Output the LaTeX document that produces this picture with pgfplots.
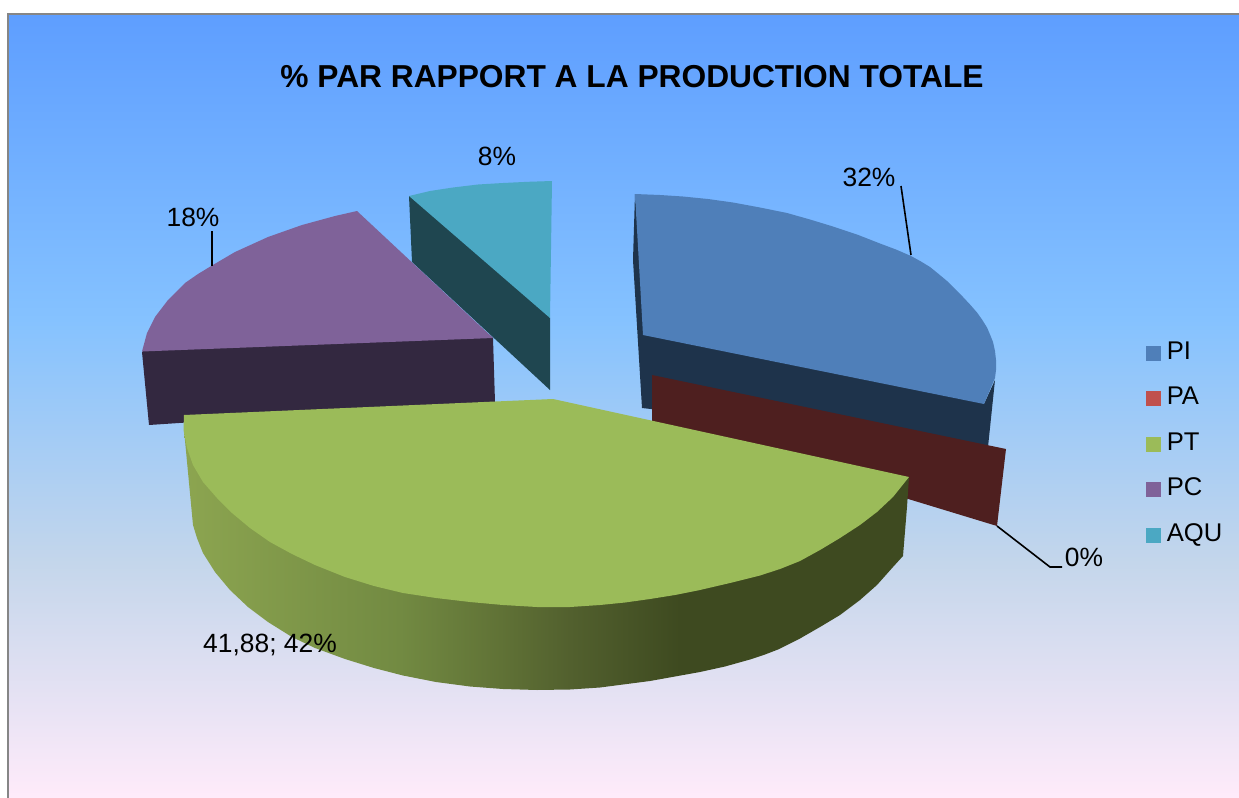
\documentclass[border=0pt]{standalone}
\usepackage{fontspec}
\setmainfont{Liberation Sans}
\usepackage{xcolor}
\usepackage{tikz}
\usepackage{pgfplots}
\pgfplotsset{compat=1.18}

\definecolor{PIcol}{HTML}{4F7FB9}
\definecolor{PIside}{HTML}{1E334B}
\definecolor{PAcol}{HTML}{C0504D}
\definecolor{PAside}{HTML}{4E1F1F}
\definecolor{PTcol}{HTML}{9BBB59}
\definecolor{PCcol}{HTML}{7F6299}
\definecolor{PCside}{HTML}{332840}
\definecolor{AQUcol}{HTML}{4BA8C3}
\definecolor{AQUside}{HTML}{1F4650}
\definecolor{Frame}{HTML}{868686}

% shading box is 100bp, the middle 25--75bp lands on the path's bounding box
\pgfdeclareverticalshading{daybreak}{100bp}{
  color(0bp)=(rgb,255:red,255;green,235;blue,250);
  color(25bp)=(rgb,255:red,255;green,235;blue,250);
  color(40bp)=(rgb,255:red,196;green,214;blue,235);
  color(55.5bp)=(rgb,255:red,133;green,194;blue,255);
  color(75bp)=(rgb,255:red,94;green,158;blue,255);
  color(100bp)=(rgb,255:red,94;green,158;blue,255)}
\pgfdeclarehorizontalshading{greenside}{100bp}{
  color(0bp)=(rgb,255:red,140;green,165;blue,80);
  color(25bp)=(rgb,255:red,140;green,165;blue,80);
  color(39.9bp)=(rgb,255:red,114;green,138;blue,66);
  color(46.8bp)=(rgb,255:red,96;green,114;blue,54);
  color(51.6bp)=(rgb,255:red,82;green,96;blue,46);
  color(59.2bp)=(rgb,255:red,62;green,74;blue,32);
  color(75bp)=(rgb,255:red,62;green,74;blue,32);
  color(100bp)=(rgb,255:red,62;green,74;blue,32)}

\begin{document}
\begin{tikzpicture}
\begin{axis}[
  scale only axis,
  width=619.5pt, height=399pt,
  xmin=0, xmax=1239, ymin=0, ymax=798,
  y dir=reverse,
  hide axis,
  no markers,
  face/.style={forget plot, draw=none, fill=#1},
  leader/.style={forget plot, black, line width=0.8pt},
  legend image code/.code={\fill[#1] (0pt,-3.5pt) rectangle (7pt,3.5pt); \path[draw=none] (0pt,0pt) -- (10pt,0pt);},
  legend style={draw=none, fill=none, at={(axis cs:1146,340)}, anchor=north west,
    font=\fontsize{12.8}{14}\selectfont, row sep=10pt, inner sep=0pt,
    nodes={inner sep=0pt, text height=9.5pt, text depth=3.25pt}},
  legend cell align=left,
]
% page and frame
\addplot[face=white] coordinates {(0,0)(1239,0)(1239,798)(0,798)} --cycle;
\addplot[forget plot, draw=none, shading=daybreak] coordinates {(8,14)(1239,14)(1239,798)(8,798)} --cycle;
\addplot[forget plot, Frame, line width=1pt] coordinates {(8,798)(8,14)(1239,14)};

% PI, 32 -- the side runs on under the top face so no seam shows
\addplot[face=PIside] coordinates {(635,194)(633,260)(642,408)(988,447)(995,380)(984,404)(900,340)(643,300)} --cycle;
\addplot[face=PIcol] coordinates {
  (635,194)(660,195)(683,196.5)(708,199)(733,202.5)(760,207.5)(787,213)(810,219.5)
  (833,226.5)(857,234.5)(880,243.5)(896,249.5)(911,256)(921,261.5)(930,267)(938,273.5)(947,281)
  (955,289)(963,297)(970,304.5)(977,312.5)(982,319.5)(987,327.5)(990,334.5)(993,342)(995,351)
  (996,360)(996,370)(995,378)(984,404)(643,335)} --cycle;

% AQU, 8
\addplot[face=AQUside] coordinates {(409,196)(412,262)(550,390)(550,318)(540,300)(430,205)} --cycle;
\addplot[face=AQUcol] coordinates {(409,196)(430,191)(453,187.5)(478,184.5)(503,183)(528,181.8)(552,181)(550,318)} --cycle;

% PC, 18
\addplot[face=PCside] coordinates {(142,352)(150,344)(485,331)(493,338)(495,402)(149,425)} --cycle;
\addplot[face=PCcol] coordinates {
  (357,211)(493,338)(142,351.5)(147,333)(155,317)(168,300)(185,283)(198,274)(212,265.5)
  (235,252)(268,237)(302,225)(335,216)} --cycle;

% PA, 0
\addplot[face=PAside] coordinates {(652,375)(1006,449)(997,526)(652,421)} --cycle;

% PT, 41.88
\addplot[forget plot, draw=none, shading=greenside] coordinates {
  (184,430)(193,525)(197,538)(203,553)(215,572)(230,590)(248,607)(268,622)(292,637)
  (315,648)(345,659)(374,668)(403,675.5)(436,682)(470,686.5)(503,689)(537,690)(570,689.5)
  (600,687.5)(650,681)(700,672)(725,666.5)(750,659.5)(765,654.5)(778,649.5)(800,638.5)(820,627)
  (840,615)(860,600)(877,585)(893,567)(903,556)(907,507)(909,477)(550,500)} --cycle;
\addplot[face=PTcol] coordinates {
  (184,415)(183.5,430)(187,448)(193,465)(203,482)(217,498)(232,513)(250,528)(270,542)(292,554)
  (315,565)(345,577)(374,586)(403,593)(436,598)(470,602)(503,605)(537,607)(570,607)(600,605)
  (625,602.5)(650,599)(675,595)(700,590)(730,583)(760,575.5)(780,569)(800,561)(820,550)(840,538)
  (860,525)(877,512)(893,497)(909,477)(553,399)} --cycle;

% leader lines
\addplot[leader] coordinates {(901,186)(911,255)};
\addplot[leader] coordinates {(212,231)(212,266)};
\addplot[leader] coordinates {(997,526)(1050,567)(1062,567)};

% labels
\node[font=\bfseries\fontsize{15.86}{18}\selectfont] at (axis cs:632,76.5) {\% PAR RAPPORT A LA PRODUCTION TOTALE};
\begin{scope}[every node/.style={font=\fontsize{13.2}{15}\selectfont}]
\node at (axis cs:869,177) {32\%};
\node at (axis cs:497,156) {8\%};
\node at (axis cs:193,217) {18\%};
\node at (axis cs:1084,557) {0\%};
\node at (axis cs:270,645) {41,88; 42\%};
\end{scope}

% legend
\addlegendimage{PIcol}\addlegendentry{PI}
\addlegendimage{PAcol}\addlegendentry{PA}
\addlegendimage{PTcol}\addlegendentry{PT}
\addlegendimage{PCcol}\addlegendentry{PC}
\addlegendimage{AQUcol}\addlegendentry{AQU}
\end{axis}
\end{tikzpicture}
\end{document}
